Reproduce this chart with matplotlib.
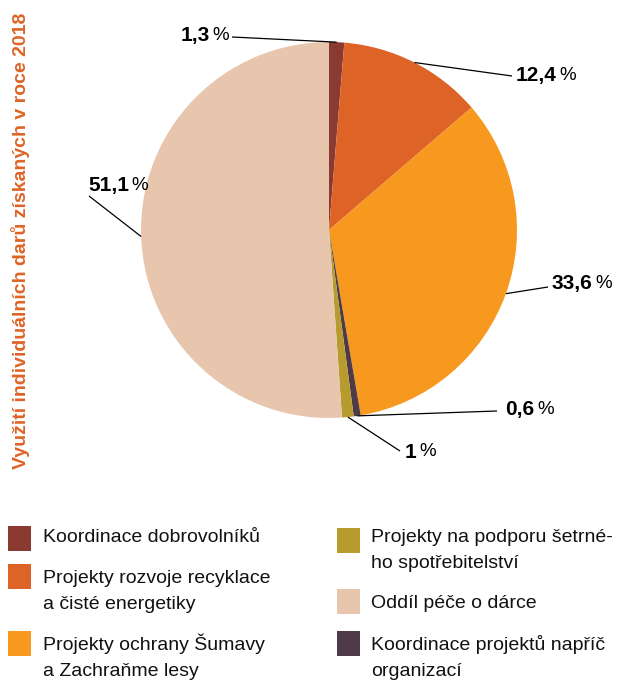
import matplotlib
matplotlib.use("Agg")
import matplotlib.pyplot as plt
from matplotlib.patches import Rectangle
import numpy as np

plt.rcParams["font.family"] = ["Liberation Sans Narrow", "Liberation Sans", "DejaVu Sans"]

# data (clockwise from the top)
categories = [
    "Koordinace dobrovolníků",
    "Projekty rozvoje recyklace\na čisté energetiky",
    "Projekty ochrany Šumavy\na Zachraňme lesy",
    "Koordinace projektů napříč\norganizací",
    "Projekty na podporu šetrné-\nho spotřebitelství",
    "Oddíl péče o dárce",
]
shares = [1.3, 12.4, 33.6, 0.6, 1.0, 51.1]
value_labels = ["1,3", "12,4", "33,6", "0,6", "1", "51,1"]
colors = ["#8B3A32", "#DD6426", "#F7981F", "#4E3B47", "#B89B2E", "#E8C6AD"]
title = "Využití individuálních darů získaných v roce 2018"

W, H = 619, 681
fig = plt.figure(figsize=(W / 100, H / 100), dpi=100)
ax = fig.add_axes([0, 0, 1, 1])

cx, cy, R = 329, H - 230, 188
wedges, _ = ax.pie(shares, colors=colors, startangle=90, counterclock=False,
                   center=(cx, cy), radius=R, frame=True,
                   wedgeprops=dict(linewidth=0))
ax.set_xlim(0, W); ax.set_ylim(0, H); ax.axis("off")

# label placement (pixels from top-left): text anchor, side, line end
label_pos = [
    ((229, 35), "right", (232, 37)),
    ((516, 75), "left", (512, 76)),
    ((552, 284), "left", (548, 287)),
    ((505, 409), "left", (497, 411)),
    ((405, 452), "left", (400, 451)),
    ((88, 185), "left", (89, 196)),
]
NUM_FS, PCT_FS, GAP = 15, 13.5, 2
for w, lab, ((tx, ty), ha, (lx, ly)) in zip(wedges, value_labels, label_pos):
    ang = np.deg2rad((w.theta1 + w.theta2) / 2)
    px, py = cx + R * np.cos(ang), cy + R * np.sin(ang)
    ax.plot([px, lx], [py, H - ly], color="black", lw=0.9, solid_capstyle="butt")
    if ha == "left":
        num = ax.text(tx, H - ty, lab, ha="left", va="center", fontsize=NUM_FS,
                      fontweight="bold", color="black")
        ax.annotate("%", xy=(1, 0.5), xycoords=num, xytext=(GAP, 0),
                    textcoords="offset points", ha="left", va="center",
                    fontsize=PCT_FS, color="black")
    else:
        pct = ax.text(tx, H - ty, "%", ha="right", va="center", fontsize=PCT_FS,
                      color="black")
        ax.annotate(lab, xy=(0, 0.5), xycoords=pct, xytext=(-GAP, 0),
                    textcoords="offset points", ha="right", va="center",
                    fontsize=NUM_FS, fontweight="bold", color="black")

ax.text(21, H - 241, title, rotation=90, ha="center", va="center",
        fontsize=14, fontweight="bold", color="#DD6426")

# legend, two columns: (category index, square x, text x, square top, first baseline)
legend_order = [(0, 8, 43, 526, 542), (1, 8, 43, 564, 583), (2, 8, 43, 631, 650),
                (4, 337, 371, 528, 542), (5, 337, 371, 589, 608), (3, 337, 371, 631, 650)]
for idx, sx, tx, sy, by in legend_order:
    ax.add_patch(Rectangle((sx, H - sy - 25), 23, 25, color=colors[idx], lw=0))
    for k, line in enumerate(categories[idx].split("\n")):
        ax.text(tx, H - by - k * 25.7, line, ha="left", va="baseline",
                fontsize=14, color="#111111")

fig.savefig("out.png", dpi=100)
